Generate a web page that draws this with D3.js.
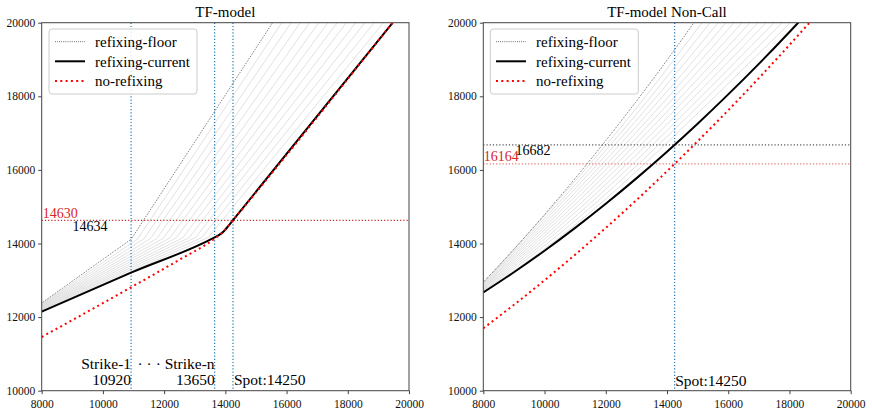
<!DOCTYPE html>
<html>
<head>
<meta charset="utf-8">
<script src="https://cdn.jsdelivr.net/npm/d3@7"></script>
<style>
  body { margin: 0; background: #fff; }
  text { font-family: "Liberation Serif", "Times New Roman", serif; }
</style>
</head>
<body>
<script>
// ticks
var xTicks = [8000, 10000, 12000, 14000, 16000, 18000, 20000];
var yTicks = [10000, 12000, 14000, 16000, 18000, 20000];

// left panel: TF-model  ([underlying, value] pairs)
var leftFloor = [[8000, 12383], [10920, 14114], [15543, 20000]];
var leftCurrent = [[8000, 12150], [10920, 13207], [13650, 14168], [13800, 14236], [13950, 14335],
                   [14100, 14478], [14250, 14634], [19465, 20000]];
var leftNoRefix = [[8000, 11459], [10920, 12810], [12500, 13560], [13650, 14130], [13950, 14330],
                   [14250, 14630], [19465, 20000]];
// light gray refixing paths, one per intermediate strike
var leftGrayStart = [12365, 12347, 12329, 12311, 12293, 12275, 12258, 12240, 12222, 12204, 12186, 12168];
var leftGrayKinkX = [11130, 11340, 11550, 11760, 11970, 12180, 12390, 12600, 12810, 13020, 13230, 13440];
var leftGrayKinkY = [14120, 14125, 14130, 14135, 14140, 14145, 14150, 14150, 14155, 14160, 14162, 14165];
var leftGrayTopX  = [15845, 16147, 16448, 16750, 17052, 17353, 17655, 17957, 18258, 18560, 18862, 19163];
var leftStrikes = [10920, 13650];
var leftSpot = 14250;
var leftCurrentVal = 14634, leftNoRefixVal = 14630;

// right panel: TF-model Non-Call
var rightFloor = [[8000, 12950], [9000, 13846], [10000, 14786], [11000, 15769], [12000, 16796],
                  [13000, 17868], [14000, 18982], [14880, 20000]];
var rightCurrent = [[8000, 12670], [9000, 13220], [10000, 13804], [11000, 14425], [12000, 15080],
                    [13000, 15770], [14000, 16495], [15000, 17255], [16000, 18052], [17000, 18882],
                    [18000, 19748], [18300, 20015]];
var rightNoRefix = [[8000, 11696], [9000, 12334], [10000, 13001], [11000, 13697], [12000, 14423],
                    [13000, 15179], [14000, 15964], [15000, 16778], [16000, 17621], [17000, 18494],
                    [18000, 19396], [18700, 20045]];
var rightGrayStart = [12928, 12907, 12885, 12864, 12842, 12821, 12799, 12778, 12756, 12735, 12713, 12692];
var rightGrayMid   = [16664, 16532, 16400, 16268, 16136, 16004, 15872, 15740, 15608, 15476, 15344, 15212];
var rightGrayTopX  = [15142, 15404, 15666, 15927, 16189, 16451, 16713, 16975, 17237, 17498, 17760, 18022];
var rightSpot = 14250;
var rightCurrentVal = 16682, rightNoRefixVal = 16164;

var legendItems = ["refixing-floor", "refixing-current", "no-refixing"];

var svg = d3.select("body").append("svg")
  .attr("width", 872)
  .attr("height", 415);

var H = { top: 22.7, bottom: 390.7 };
var blue = "#1f77b4";

function panel(id, left, right, title) {
  var x = d3.scaleLinear().domain([8000, 20000]).range([left, right]);
  var y = d3.scaleLinear().domain([10000, 20000]).range([H.bottom, H.top]);
  var g = svg.append("g");

  svg.append("clipPath").attr("id", id)
    .append("rect").attr("x", left).attr("y", H.top)
    .attr("width", right - left).attr("height", H.bottom - H.top);

  var plot = g.append("g").attr("clip-path", "url(#" + id + ")");

  // axes
  var xa = g.append("g").attr("transform", "translate(0," + H.bottom + ")")
    .call(d3.axisBottom(x).tickValues(xTicks).tickFormat(d3.format("d")).tickSizeOuter(0).tickSize(3.5));
  var ya = g.append("g").attr("transform", "translate(" + left + ",0)")
    .call(d3.axisLeft(y).tickValues(yTicks).tickFormat(d3.format("d")).tickSizeOuter(0).tickSize(3.5));
  [xa, ya].forEach(function(a) {
    a.select(".domain").remove();
    a.selectAll("line").attr("stroke", "#444");
    a.selectAll("text").attr("font-size", 11.5).attr("fill", "#111")
      .attr("font-family", "Liberation Serif, serif");
  });
  xa.selectAll("text").attr("dy", "0.9em");

  g.append("rect").attr("x", left).attr("y", H.top)
    .attr("width", right - left).attr("height", H.bottom - H.top)
    .attr("fill", "none").attr("stroke", "#444").attr("stroke-width", 1);

  g.append("text").attr("x", (left + right) / 2).attr("y", 16.5)
    .attr("text-anchor", "middle").attr("font-size", 15).text(title);

  return { x: x, y: y, g: g, plot: plot, left: left, right: right };
}

function legend(p, bx, sx) {
  var lg = p.g.append("g");
  lg.append("rect").attr("x", bx).attr("y", 29).attr("width", 148).attr("height", 65)
    .attr("rx", 3).attr("fill", "#fff").attr("fill-opacity", 0.85)
    .attr("stroke", "#ccc").attr("stroke-width", 1);
  var rows = [41.7, 61.3, 81];
  var styles = [
    { stroke: "#222", w: 0.8, dash: "0.8,1.3" },
    { stroke: "#000", w: 2, dash: null },
    { stroke: "red", w: 2, dash: "2,3.3" }
  ];
  legendItems.forEach(function(name, i) {
    lg.append("line").attr("x1", sx).attr("x2", sx + 30).attr("y1", rows[i]).attr("y2", rows[i])
      .attr("stroke", styles[i].stroke).attr("stroke-width", styles[i].w)
      .attr("stroke-dasharray", styles[i].dash);
    lg.append("text").attr("x", sx + 40).attr("y", rows[i]).attr("dy", "0.35em")
      .attr("font-size", 15).text(name);
  });
}

// ---------- left ----------
var L = panel("clipL", 41.7, 409, "TF-model");
var lineL = d3.line().x(function(d) { return L.x(d[0]); }).y(function(d) { return L.y(d[1]); });

leftGrayStart.forEach(function(s, i) {
  var pts = [[8000, s], [leftGrayKinkX[i], leftGrayKinkY[i]], [leftGrayTopX[i], 20000]];
  L.plot.append("path").attr("d", lineL(pts)).attr("fill", "none")
    .attr("stroke", "#d4d4d4").attr("stroke-width", 0.7);
});

// reference lines
L.plot.append("line").attr("x1", L.left).attr("x2", L.right)
  .attr("y1", L.y(leftNoRefixVal)).attr("y2", L.y(leftNoRefixVal))
  .attr("stroke", "#c62828").attr("stroke-width", 1.2).attr("stroke-dasharray", "1.2,2");
leftStrikes.concat([leftSpot]).forEach(function(v) {
  L.plot.append("line").attr("x1", L.x(v)).attr("x2", L.x(v)).attr("y1", H.top).attr("y2", H.bottom)
    .attr("stroke", blue).attr("stroke-width", 1.2).attr("stroke-dasharray", "1.2,2");
});

L.plot.append("path").attr("d", lineL(leftFloor)).attr("fill", "none")
  .attr("stroke", "#222").attr("stroke-width", 0.8).attr("stroke-dasharray", "0.8,1.3");
L.plot.append("path").attr("d", lineL.curve(d3.curveMonotoneX)(leftCurrent)).attr("fill", "none")
  .attr("stroke", "#000").attr("stroke-width", 2);
L.plot.append("path").attr("d", lineL.curve(d3.curveMonotoneX)(leftNoRefix)).attr("fill", "none")
  .attr("stroke", "red").attr("stroke-width", 2).attr("stroke-dasharray", "2,3.3");

// annotations
L.g.append("text").attr("x", L.left + 1).attr("y", 218).attr("font-size", 14)
  .attr("fill", "#d62728").text(leftNoRefixVal);
L.g.append("text").attr("x", 72.5).attr("y", 230.5).attr("font-size", 14).text(leftCurrentVal);
L.g.append("text").attr("x", L.x(leftStrikes[0])).attr("y", 369).attr("text-anchor", "end")
  .attr("font-size", 15.5).text("Strike-1");
L.g.append("text").attr("x", L.x(leftStrikes[0])).attr("y", 385).attr("text-anchor", "end")
  .attr("font-size", 15.5).text(leftStrikes[0]);
L.g.append("text").attr("x", L.x(leftStrikes[1])).attr("y", 369).attr("text-anchor", "end")
  .attr("font-size", 15.5).text("\u00b7 \u00b7 \u00b7 Strike-n");
L.g.append("text").attr("x", L.x(leftStrikes[1])).attr("y", 385).attr("text-anchor", "end")
  .attr("font-size", 15.5).text(leftStrikes[1]);
L.g.append("text").attr("x", L.x(leftSpot) + 1).attr("y", 385)
  .attr("font-size", 15.5).text("Spot:" + leftSpot);

legend(L, 49, 55);

// ---------- right ----------
var R = panel("clipR", 483.3, 850.7, "TF-model Non-Call");
var lineR = d3.line().x(function(d) { return R.x(d[0]); }).y(function(d) { return R.y(d[1]); })
  .curve(d3.curveMonotoneX);
var lineRg = d3.line().x(function(d) { return R.x(d[0]); }).y(function(d) { return R.y(d[1]); })
  .curve(d3.curveNatural);

rightGrayStart.forEach(function(s, i) {
  var pts = [[8000, s], [12000, rightGrayMid[i]], [rightGrayTopX[i], 20000]];
  R.plot.append("path").attr("d", lineRg(pts)).attr("fill", "none")
    .attr("stroke", "#d4d4d4").attr("stroke-width", 0.7);
});

R.plot.append("line").attr("x1", R.left).attr("x2", R.right)
  .attr("y1", R.y(rightCurrentVal)).attr("y2", R.y(rightCurrentVal))
  .attr("stroke", "#555").attr("stroke-width", 1.2).attr("stroke-dasharray", "1.2,2");
R.plot.append("line").attr("x1", R.left).attr("x2", R.right)
  .attr("y1", R.y(rightNoRefixVal)).attr("y2", R.y(rightNoRefixVal))
  .attr("stroke", "#e57373").attr("stroke-width", 1.2).attr("stroke-dasharray", "1.2,2");
R.plot.append("line").attr("x1", R.x(rightSpot)).attr("x2", R.x(rightSpot)).attr("y1", H.top).attr("y2", H.bottom)
  .attr("stroke", blue).attr("stroke-width", 1.2).attr("stroke-dasharray", "1.2,2");

R.plot.append("path").attr("d", lineR(rightFloor)).attr("fill", "none")
  .attr("stroke", "#222").attr("stroke-width", 0.8).attr("stroke-dasharray", "0.8,1.3");
R.plot.append("path").attr("d", lineR(rightCurrent)).attr("fill", "none")
  .attr("stroke", "#000").attr("stroke-width", 2);
R.plot.append("path").attr("d", lineR(rightNoRefix)).attr("fill", "none")
  .attr("stroke", "red").attr("stroke-width", 2).attr("stroke-dasharray", "2,3.3");

R.g.append("text").attr("x", R.left + 0.5).attr("y", 161).attr("font-size", 14)
  .attr("fill", "#d62728").text(rightNoRefixVal);
R.g.append("text").attr("x", 515.5).attr("y", 155).attr("font-size", 14).text(rightCurrentVal);
R.g.append("text").attr("x", R.x(rightSpot) + 0.5).attr("y", 386)
  .attr("font-size", 15.5).text("Spot:" + rightSpot);

legend(R, 490.3, 496);
</script>
</body>
</html>
